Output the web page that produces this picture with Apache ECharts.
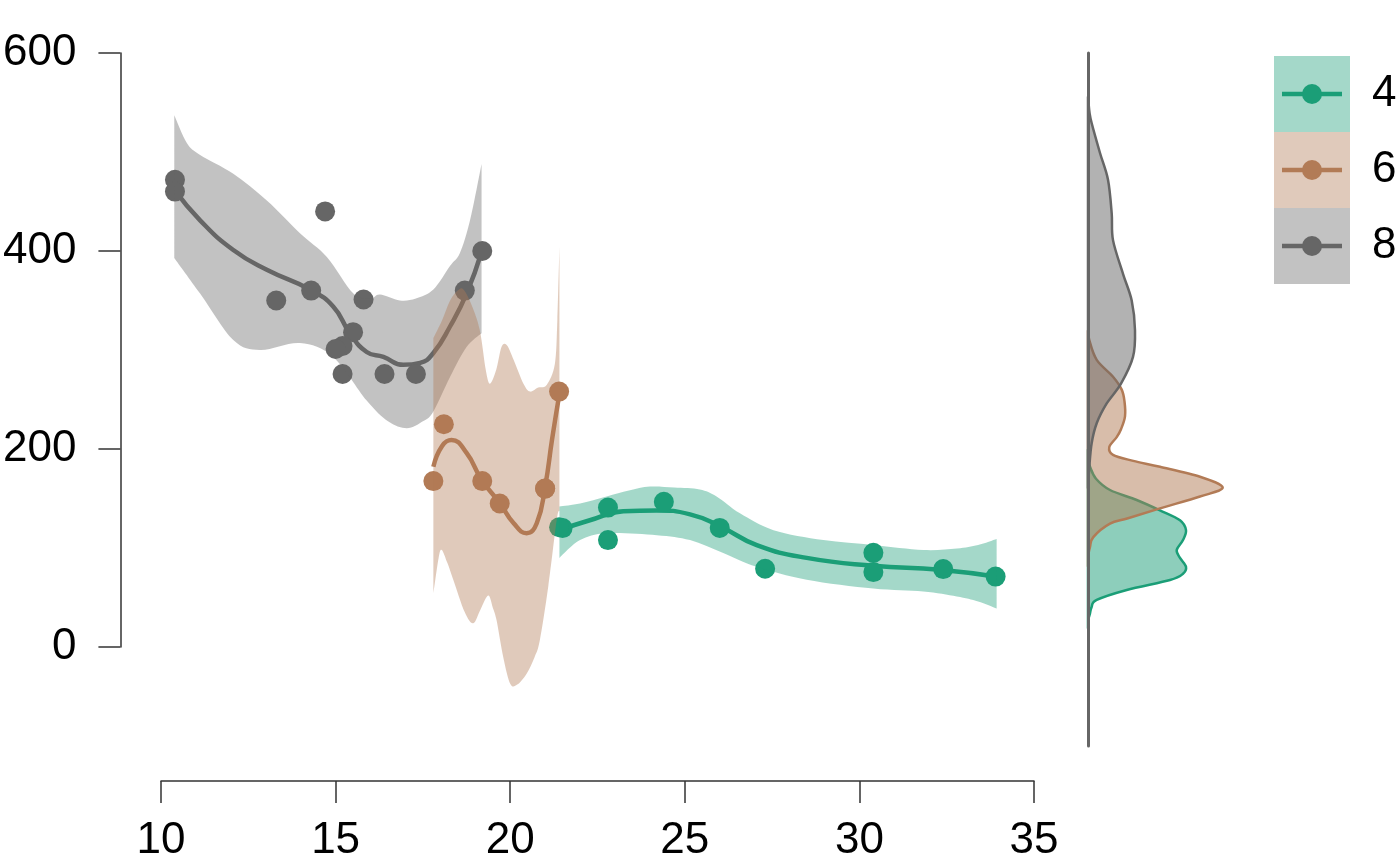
<!DOCTYPE html>
<html>
<head>
<meta charset="utf-8">
<script src="https://cdn.jsdelivr.net/npm/echarts@6/dist/echarts.min.js"></script>
<style>html,body{margin:0;padding:0;background:#fff;}#chart{width:1400px;height:866px;}</style>
</head>
<body>
<div id="chart"></div>
<script>
// ---- data (mpg, disp) by cylinder group ----
const groups = ['4', '6', '8'];
const colors = ['#1B9E77', '#B27B56', '#666666'];

const points4 = [[22.8,108],[24.4,146.7],[22.8,140.8],[32.4,78.7],[30.4,75.7],[33.9,71.1],[21.5,120.1],[27.3,79],[26.0,120.3],[30.4,95.1],[21.4,121]];
const points6 = [[21.0,160],[21.0,160],[21.4,258],[18.1,225],[19.2,167.6],[17.8,167.6],[19.7,145]];
const points8 = [[18.7,360],[14.3,360],[16.4,275.8],[17.3,275.8],[15.2,275.8],[10.4,472],[10.4,460],[14.7,440],[15.5,318],[15.2,304],[13.3,350],[19.2,400],[15.8,351],[15.0,301]];

// smooth fit lines
const fit4 = [[21.41,118],[22.28,128],[23.24,137],[24.19,138],[25.15,134],[26.01,122],[27.06,103],[28.49,90],[30.4,82],[32.3,78],[33.93,71]];
const fit6 = [[17.8,182],[18.05,203],[18.32,209],[18.75,196],[19.18,169],[19.71,145],[20.1,125],[20.47,115],[20.76,125],[21.0,162],[21.2,210],[21.41,256]];
const fit8 = [[10.38,462],[11.12,431],[12.07,401],[13.03,381],[14.27,361],[14.93,344],[15.41,317],[15.89,298],[16.37,293],[16.94,285],[17.42,287],[17.8,297],[18.28,324],[18.75,357],[19.18,399]];

// confidence ribbons (upper / lower)
const upper4 = [[21.41,142],[22.0,145],[22.76,152],[23.4,158],[24.0,162],[24.7,161],[25.43,159],[25.91,152],[26.58,135],[27.54,118],[28.97,108],[30.4,103],[31.83,98],[32.79,99.5],[33.4,103],[33.93,109]];
const lower4 = [[21.41,90],[22.0,108],[22.76,115],[24.2,113],[25.15,108],[26.1,95],[27.06,81],[28.49,68],[30.4,59],[31.83,56],[32.79,51],[33.4,46],[33.93,39]];
const upper6 = [[17.8,312],[18.05,330],[18.28,350],[18.5,360],[18.66,361],[18.9,345],[19.13,320],[19.3,280],[19.42,266],[19.6,280],[19.75,303],[19.9,305],[20.1,290],[20.38,266],[20.57,258],[20.8,262],[21.05,265],[21.28,286],[21.35,330],[21.41,404]];
const lower6 = [[17.8,54],[17.95,90],[18.04,98],[18.2,85],[18.37,68],[18.7,35],[18.94,24],[19.15,38],[19.37,52],[19.5,40],[19.61,27],[19.8,-10],[20.0,-37],[20.2,-38],[20.47,-27],[20.7,-10],[20.85,7],[21.09,61],[21.33,128],[21.41,138]];
const upper8 = [[10.38,537],[10.74,509],[11.12,497],[12.07,478],[13.03,451],[13.98,418],[14.75,394],[15.51,357],[16.0,352],[16.27,356],[16.84,350],[17.3,352],[17.8,361],[18.28,385],[18.56,398],[18.85,431],[19.18,488]];
const lower8 = [[10.38,393],[11.12,357],[12.07,310],[12.84,300],[13.98,307],[14.93,293],[15.89,249],[16.5,228],[17.04,221],[17.5,228],[17.8,238],[18.28,273],[18.75,303],[19.18,317]];

// marginal densities of disp: [density, disp]
const dens4 = [[0,27],[0.0002,34],[0.00035,40],[0.00087,47.5],[0.00387,57.6],[0.0082,67.7],[0.0095,74],[0.0098,81],[0.0092,90],[0.00887,98],[0.0095,108],[0.0098,118],[0.0092,128],[0.0072,138],[0.00487,148.5],[0.0022,158.6],[0.0008,170],[0.0002,182],[0,190]];
const dens6 = [[0,92],[0.0002,101],[0.00053,111],[0.0022,124.6],[0.004,130],[0.0072,140],[0.0112,152],[0.01347,161],[0.0112,172],[0.0072,182],[0.00453,188],[0.0025,194],[0.00213,202],[0.00287,212],[0.0033,220],[0.0037,233],[0.00365,248],[0.00337,260],[0.0025,273],[0.00087,290],[0.00013,310],[0,320]];
const dens8 = [[0,160],[0.00013,182],[0.00037,206],[0.00087,226],[0.00187,246],[0.0033,266],[0.0045,293],[0.0047,320],[0.00437,350],[0.0035,377],[0.0025,411],[0.00237,438],[0.002,472],[0.0012,499],[0.00037,529],[0.00015,540],[0,556]];

const yTicks = [0, 200, 400, 600];
const xTicks = [10, 15, 20, 25, 30, 35];

// ---- helpers ----
function hexA(hex, a) {
  const n = parseInt(hex.slice(1), 16);
  return `rgba(${(n>>16)&255},${(n>>8)&255},${n&255},${a})`;
}
function curveSeg(pts, start) {
  let d = (start ? 'M' : 'L') + pts[0][0] + ',' + pts[0][1];
  for (let i = 0; i < pts.length - 1; i++) {
    const p0 = pts[i-1] || pts[i], p1 = pts[i], p2 = pts[i+1], p3 = pts[i+2] || pts[i+1];
    const c1 = [p1[0] + (p2[0]-p0[0])/6, p1[1] + (p2[1]-p0[1])/6];
    const c2 = [p2[0] - (p3[0]-p1[0])/6, p2[1] - (p3[1]-p1[1])/6];
    d += 'C' + c1[0] + ',' + c1[1] + ' ' + c2[0] + ',' + c2[1] + ' ' + p2[0] + ',' + p2[1];
  }
  return d;
}
function ribbonSeries(up, lo, color, gi) {
  return {
    type: 'custom', xAxisIndex: 0, yAxisIndex: 0, z: 5 + gi, silent: true,
    data: [0],
    renderItem: function (params, api) {
      const u = up.map(p => api.coord(p));
      const l = lo.slice().reverse().map(p => api.coord(p));
      const d = curveSeg(u, true) + curveSeg(l, false) + 'Z';
      return { type: 'path', shape: { pathData: d }, style: { fill: hexA(color, 0.4), stroke: null } };
    }
  };
}
function densitySeries(dens, color, gi) {
  return {
    type: 'custom', xAxisIndex: 3, yAxisIndex: 3, z: 5 + gi, silent: true,
    data: [0],
    renderItem: function (params, api) {
      const pts = dens.map(p => api.coord(p));
      const d = curveSeg(pts, true) + 'Z';
      return { type: 'path', shape: { pathData: d }, style: { fill: hexA(color, 0.5), stroke: color, lineWidth: 2.5 } };
    }
  };
}

const FONT = 'Liberation Sans, Arial, Helvetica, sans-serif';
const fits = [fit4, fit6, fit8];
const pts = [points4, points6, points8];
const ups = [upper4, upper6, upper8];
const los = [lower4, lower6, lower8];
const dens = [dens4, dens6, dens8];

const series = [];
for (let g = 0; g < 3; g++) {
  series.push({ type: 'line', xAxisIndex: 0, yAxisIndex: 0, data: fits[g], smooth: 0.5, showSymbol: false, z: 2, silent: true,
    lineStyle: { color: colors[g], width: 4.5 } });
  series.push({ type: 'scatter', xAxisIndex: 0, yAxisIndex: 0, data: pts[g], symbolSize: 20, z: 3, silent: true,
    itemStyle: { color: colors[g], opacity: 1 } });
}
[2, 1, 0].forEach(g => series.push(ribbonSeries(ups[g], los[g], colors[g], 2 - g)));
[0, 1, 2].forEach(g => series.push(densitySeries(dens[g], colors[g], g)));

// legend graphics
const graphic = [];
const boxX = 1274, boxY = 56, boxS = 76;
for (let g = 0; g < 3; g++) {
  const y0 = boxY + g * boxS, cy = y0 + boxS / 2;
  graphic.push({ type: 'rect', left: boxX, top: y0, shape: { width: boxS, height: boxS }, style: { fill: hexA(colors[g], 0.4) }, silent: true });
  graphic.push({ type: 'line', shape: { x1: boxX + 8, y1: cy, x2: boxX + 68, y2: cy }, style: { stroke: colors[g], lineWidth: 4.5 }, silent: true });
  graphic.push({ type: 'circle', shape: { cx: boxX + 38, cy: cy, r: 10 }, style: { fill: colors[g] }, silent: true });
  graphic.push({ type: 'text', x: 1372, y: cy, style: { text: groups[g], font: '44px ' + FONT, fill: '#000', textVerticalAlign: 'middle', verticalAlign: 'middle' }, silent: true });
}

const option = {
  animation: false,
  backgroundColor: '#fff',
  textStyle: { fontFamily: FONT },
  grid: [
    { left: 161, width: 873, top: 53, height: 693 },
    { left: 117, width: 10, top: 53, height: 594 },
    { left: 161, width: 873, top: 700, height: 81 },
    { left: 1088, width: 150, top: 53, height: 693 }
  ],
  xAxis: [
    { gridIndex: 0, type: 'value', min: 10, max: 35, show: false },
    { gridIndex: 1, type: 'value', min: 0, max: 1, show: false },
    { gridIndex: 2, type: 'value', min: xTicks[0], max: xTicks[xTicks.length-1], interval: 5, position: 'bottom',
      axisLine: { show: true, lineStyle: { color: '#333', width: 1.5 } },
      axisTick: { show: true, length: 22, lineStyle: { color: '#333', width: 1.5 } },
      axisLabel: { fontSize: 44, color: '#000', margin: 38, fontFamily: FONT, showMinLabel: true, showMaxLabel: true },
      splitLine: { show: false } },
    { gridIndex: 3, type: 'value', min: 0, max: 0.015, show: false }
  ],
  yAxis: [
    { gridIndex: 0, type: 'value', min: -100, max: 600, show: false },
    { gridIndex: 1, type: 'value', min: yTicks[0], max: yTicks[yTicks.length-1], interval: 200, position: 'left',
      axisLine: { show: true, lineStyle: { color: '#333', width: 1.5 } },
      axisTick: { show: true, length: 22, lineStyle: { color: '#333', width: 1.5 } },
      axisLabel: { fontSize: 44, color: '#000', margin: 44, fontFamily: FONT, showMinLabel: true, showMaxLabel: true },
      splitLine: { show: false } },
    { gridIndex: 2, type: 'value', min: 0, max: 1, show: false },
    { gridIndex: 3, type: 'value', min: -100, max: 600, show: true,
      axisLine: { show: true, onZero: false, lineStyle: { color: '#666', width: 3 } },
      axisTick: { show: false }, axisLabel: { show: false }, splitLine: { show: false }, z: 20 }
  ],
  series: series,
  graphic: graphic
};

const chart = echarts.init(document.getElementById('chart'), null, { renderer: 'canvas' });
chart.setOption(option);
</script>
</body>
</html>
